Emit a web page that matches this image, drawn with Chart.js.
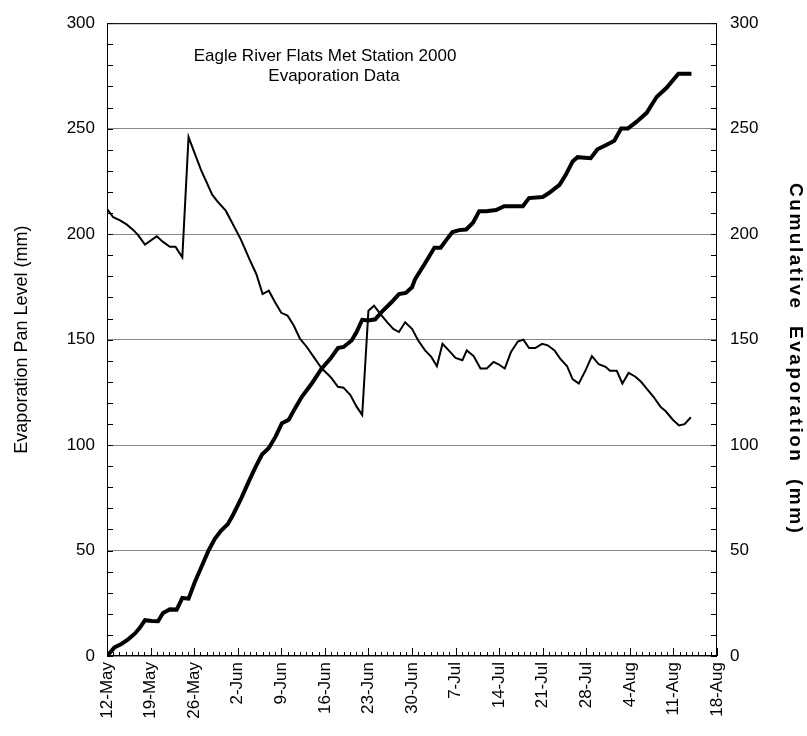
<!DOCTYPE html>
<html>
<head>
<meta charset="utf-8">
<title>Eagle River Flats Evaporation</title>
<script src="https://cdn.jsdelivr.net/npm/chart.js@4.4.1/dist/chart.umd.min.js"></script>
<style>
  html, body { margin: 0; padding: 0; background: #fff; }
  #wrap { width: 807px; height: 736px; position: relative; }
</style>
</head>
<body>
<div id="wrap"><canvas id="chart"></canvas></div>
<script>
// weekly tick labels, day 0 = 12-May
const tickLabels = ['12-May', '19-May', '26-May', '2-Jun', '9-Jun', '16-Jun', '23-Jun', '30-Jun',
    '7-Jul', '14-Jul', '21-Jul', '28-Jul', '4-Aug', '11-Aug', '18-Aug'];

// evaporation pan level (mm)
const panDays = [0, 1, 2.1, 3.2, 4.2, 5, 6.1, 8, 9, 10.1, 11, 12.1, 13.1, 15.1, 16.9, 17.7, 19.1, 20.1,
    21.5, 22.9, 24, 25, 26, 27, 28, 29, 30, 31, 32.1, 33.2, 34.5, 35.6, 36.1, 37.1, 38, 39.1, 40.1, 41,
    42, 42.9, 43.9, 45, 46, 46.9, 47.9, 49, 50, 51.1, 52.1, 53, 53.9, 54.9, 56, 57.1, 57.8, 58.9, 60, 61,
    62.1, 62.9, 63.9, 64.9, 66, 66.9, 67.8, 68.8, 69.9, 70.8, 71.9, 72.8, 73.9, 74.8, 75.8, 76.9, 77.9,
    79, 80.1, 80.8, 81.9, 82.8, 83.8, 84.9, 85.8, 86.7, 87.8, 88.9, 89.8, 90.9, 91.9, 92.8, 93.8];
const panLevel = [212, 208, 206.5, 204.5, 202, 199.5, 195, 199, 196.3, 194, 194, 189, 246, 230.5, 218.7,
    215.6, 211, 205.4, 197.5, 188, 181, 171.6, 173.2, 167.7, 162.7, 161.4, 156.7, 150.4, 146.5, 141.8,
    136.3, 133.2, 131.6, 127.6, 127.2, 123.7, 118.2, 114.3, 163.7, 166.1, 162.2, 158.3, 155.1, 153.6,
    158.2, 155.1, 149.6, 144.9, 141.8, 137.4, 148, 144.9, 141.3, 140.2, 144.9, 142.2, 136.3, 136.3, 139.4,
    138.3, 136.3, 144.1, 149.1, 150, 146, 146, 148, 147.3, 144.9, 141, 137.5, 131.3, 129.2, 135.5, 142.2,
    138.3, 137.1, 135.2, 135.2, 129.2, 134.2, 132.4, 130, 126.8, 122.9, 118.2, 115.9, 112, 109.3, 109.9,
    113.2];

// cumulative evaporation (mm)
const cumDays = [0, 1.2, 2.3, 3.4, 4.5, 5.3, 6.1, 7.2, 8.2, 9, 10.1, 11.2, 12.1, 13.1, 14.1, 15.2, 16.3,
    17.3, 18.3, 19.4, 20.3, 21.6, 22.8, 23.8, 24.9, 26, 27.1, 28.1, 29.2, 30.2, 31.3, 32.9, 34.5, 35.9,
    37.1, 38, 39.3, 40.1, 41, 42, 43.1, 44.1, 45.7, 46.9, 48, 49, 49.5, 51, 52.6, 53.6, 54.4, 55.5, 56.6,
    57.7, 58.8, 59.8, 60.9, 62.5, 63.8, 65.2, 66.8, 67.8, 70, 71, 72.7, 73.7, 74.8, 75.6, 77.7, 78.8, 80.2,
    81.5, 82.6, 83.7, 85.1, 86.7, 88.3, 89.9, 91.8, 93.9];
const cumEvap = [0, 4.1, 5.7, 7.9, 10.7, 13.5, 17, 16.6, 16.5, 20.4, 22.1, 22, 27.5, 27.2, 35, 42.4, 49.9,
    55.4, 59.3, 62.5, 67.2, 75, 82.9, 89.2, 95.5, 98.6, 104.1, 110.4, 112, 117.4, 122.9, 129.2, 136.3, 141,
    146, 146.5, 149.6, 153.6, 159.4, 159.1, 159.6, 163, 167.7, 171.6, 172.1, 174.8, 178.7, 185.7, 193.6,
    193.6, 196.8, 201, 201.9, 202.2, 205.4, 210.9, 210.9, 211.4, 213.2, 213.2, 213.2, 217.1, 217.6, 219.5,
    223.4, 228.1, 234.4, 236.5, 236, 240.2, 242.3, 244.3, 250.1, 250.1, 253.3, 257.5, 265, 269.4, 276, 276];

const FONT = "'Liberation Sans', Arial, Helvetica, sans-serif";
Chart.defaults.font.family = FONT;
Chart.defaults.color = '#000';

// right axis title is drawn by hand so the letters can be spaced out
function spacedText(ctx, text, spacing) {
    var total = 0;
    for (var i = 0; i < text.length; i++) total += ctx.measureText(text[i]).width + spacing;
    total -= spacing;
    var pos = -total / 2;
    for (var j = 0; j < text.length; j++) {
        ctx.fillText(text[j], pos, 0);
        pos += ctx.measureText(text[j]).width + spacing;
    }
}

// box round the plot, inward minor ticks and the inner title
const framePlugin = {
    id: 'frame',
    afterDraw: function (chart) {
        var ctx = chart.ctx;
        var a = chart.chartArea;
        var x = chart.scales.x, y = chart.scales.y;
        ctx.save();
        ctx.strokeStyle = '#000';
        ctx.lineWidth = 1;
        ctx.strokeRect(a.left + 0.5, a.top + 0.5, a.right - a.left - 1, a.bottom - a.top - 1);
        ctx.beginPath();
        for (var v = 0; v <= 300; v += 10) {
            var py = Math.round(y.getPixelForValue(v)) + 0.5;
            ctx.moveTo(a.left, py); ctx.lineTo(a.left + 6, py);
            ctx.moveTo(a.right, py); ctx.lineTo(a.right - 6, py);
        }
        for (var d = 0; d <= 98; d++) {
            var px = Math.round(x.getPixelForValue(d)) + 0.5;
            var len = d % 7 === 0 ? 8 : 4;
            ctx.moveTo(px, a.bottom); ctx.lineTo(px, a.bottom - len);
        }
        ctx.stroke();

        ctx.fillStyle = '#000';
        ctx.font = '17px ' + FONT;
        ctx.textAlign = 'center';
        ctx.textBaseline = 'middle';
        ctx.fillText('Eagle River Flats Met Station 2000', a.left + 218, a.top + 33);
        ctx.fillText('Evaporation Data', a.left + 227, a.top + 53);

        ctx.translate(795, 358);
        ctx.rotate(Math.PI / 2);
        ctx.font = 'bold 19px ' + FONT;
        ctx.textAlign = 'left';
        spacedText(ctx, 'Cumulative  Evaporation  (mm)', 2.5);
        ctx.restore();
    }
};

const data = {
    datasets: [{
        label: 'Evaporation Pan Level',
        data: panDays.map(function (d, i) { return { x: d, y: panLevel[i] }; }),
        borderColor: '#000',
        borderWidth: 2,
        pointRadius: 0,
        fill: false,
        tension: 0,
        yAxisID: 'y'
    },
    {
        label: 'Cumulative Evaporation',
        data: cumDays.map(function (d, i) { return { x: d, y: cumEvap[i] }; }),
        borderColor: '#000',
        borderWidth: 4,
        pointRadius: 0,
        fill: false,
        tension: 0,
        yAxisID: 'y2'
    }]
};

const options = {
    responsive: true,
    maintainAspectRatio: false,
    animation: false,
    layout: { padding: { top: 16, left: 0, right: 0, bottom: 0 } },
    plugins: {
        legend: { display: false },
        tooltip: { enabled: false }
    },
    scales: {
        x: {
            type: 'linear',
            min: 0,
            max: 98,
            grid: { display: false, drawTicks: false },
            border: { display: false },
            afterFit: function (s) { s.height = 80; },
            ticks: {
                stepSize: 7,
                autoSkip: false,
                maxRotation: 90,
                minRotation: 90,
                padding: 6,
                font: { size: 17 },
                callback: function (value) { return tickLabels[Math.round(value / 7)]; }
            }
        },
        y: {
            position: 'left',
            min: 0,
            max: 300,
            grid: { color: '#888', lineWidth: 1, drawTicks: false },
            border: { display: false },
            afterFit: function (s) { s.width = 107; },
            ticks: { stepSize: 50, padding: 12, font: { size: 17 } },
            title: {
                display: true,
                text: 'Evaporation Pan Level (mm)',
                font: { size: 18 },
                padding: { top: 11, bottom: 0 }
            }
        },
        y2: {
            position: 'right',
            min: 0,
            max: 300,
            grid: { display: false, drawTicks: false },
            border: { display: false },
            afterFit: function (s) { s.width = 90; },
            ticks: { stepSize: 50, padding: 13, font: { size: 17 } }
        }
    }
};

new Chart(document.getElementById('chart'), {
    type: 'line',
    data: data,
    options: options,
    plugins: [framePlugin]
});
</script>
</body>
</html>
